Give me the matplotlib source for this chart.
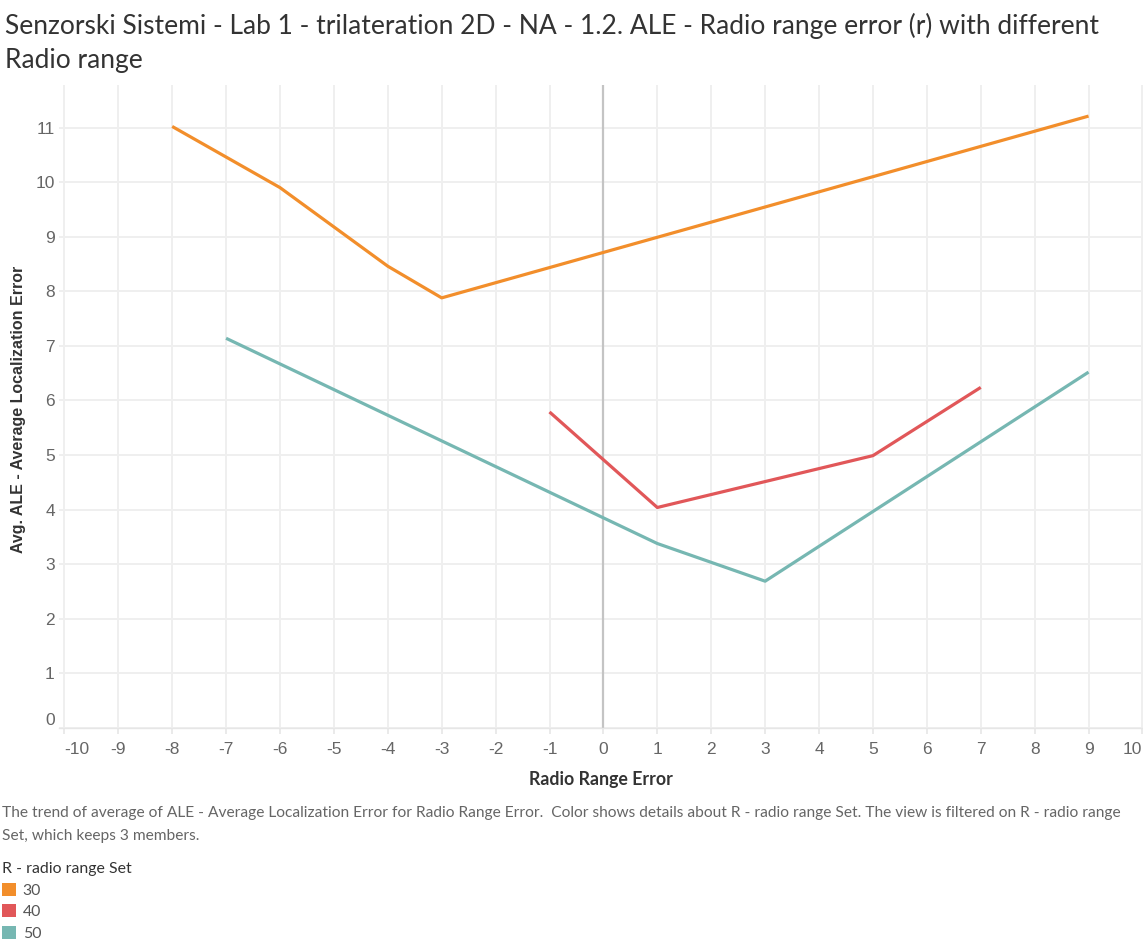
import matplotlib.pyplot as plt
from matplotlib.patches import Patch

plt.rcParams["axes.unicode_minus"] = False

# ─────────────────────────────────────────
# DATA
# ─────────────────────────────────────────
x_30 = [-8, -6, -4, -3, 9]
y_30 = [11.02, 9.90, 8.46, 7.88, 11.21]

x_40 = [-1, 1, 5, 7]
y_40 = [5.79, 4.04, 4.99, 6.24]

x_50 = [-7, 1, 3, 9]
y_50 = [7.14, 3.38, 2.69, 6.52]

SERIES_NAMES = ["30", "40", "50"]
COLORS       = ["#F28E2B", "#E15759", "#76B7B2"]

X_TICKS = list(range(-10, 11))
Y_TICKS = list(range(0, 12))

TITLE = ("Senzorski Sistemi - Lab 1 - trilateration 2D - NA - 1.2. ALE - Radio range error (r) with different\n"
         "Radio range")
CAPTION = ("The trend of average of ALE - Average Localization Error for Radio Range Error.  Color shows details "
           "about R - radio range Set. The view is filtered on R - radio range\nSet, which keeps 3 members.")

MAIN_FONT = ["Lato", "DejaVu Sans"]
AXIS_FONT = ["Liberation Sans", "DejaVu Sans"]

# ─────────────────────────────────────────
# FIGURE
# ─────────────────────────────────────────
fig = plt.figure(figsize=(11.43, 9.40), dpi=100)
ax = fig.add_axes([0.0516, 0.2255, 0.9484, 0.6841])

for xs, ys, c in zip([x_30, x_40, x_50], [y_30, y_40, y_50], COLORS):
    ax.plot(xs, ys, color=c, linewidth=2.3, solid_capstyle="butt", zorder=3)

ax.axvline(0, color="#c4c4c4", linewidth=1.6, zorder=2)

ax.set_xlim(-10.1, 10.01)
ax.set_ylim(0, 11.78)
ax.set_xticks(X_TICKS)
ax.set_yticks(Y_TICKS)
ax.grid(True, color="#efefef", linewidth=1.4, zorder=0)
ax.set_axisbelow(True)

for s in ["top", "right", "left"]:
    ax.spines[s].set_visible(False)
ax.spines["bottom"].set_color("#e6e6e6")
ax.spines["bottom"].set_linewidth(1.0)

ax.tick_params(axis="x", length=4, color="#e6e6e6", width=1.2, pad=6,
               labelsize=12.5, labelcolor="#666666")
ax.tick_params(axis="y", length=0, pad=3, labelsize=12.5, labelcolor="#666666")
for lab in ax.get_xticklabels() + ax.get_yticklabels():
    lab.set_family(AXIS_FONT)

# Tableau keeps the edge labels inside the pane
xl = ax.get_xticklabels()
xl[0].set_horizontalalignment("left")
xl[-1].set_horizontalalignment("right")
ax.get_yticklabels()[0].set_verticalalignment("bottom")

ax.set_xlabel("Radio Range Error", fontsize=12.8, fontweight="bold", color="#333333",
              family=MAIN_FONT, labelpad=10)
fig.text(0.016, 0.5649, "Avg. ALE - Average Localization Error", rotation=90,
         ha="center", va="center", fontsize=11.5, fontweight="bold",
         color="#333333", family=AXIS_FONT)

# title & caption
fig.text(0.004, 0.9862, TITLE, ha="left", va="top", fontsize=19, color="#333333",
         family=MAIN_FONT, linespacing=1.45)
fig.text(0.002, 0.1425, CAPTION, ha="left", va="top", fontsize=11.15, color="#666666",
         family=MAIN_FONT, linespacing=1.8)

# legend
handles = [Patch(facecolor=c, edgecolor="none", label=n) for n, c in zip(SERIES_NAMES, COLORS)]
leg = fig.legend(handles=handles, title="R - radio range Set", loc="upper left",
                 bbox_to_anchor=(0.002, 0.083), frameon=False, alignment="left",
                 handlelength=0.85, handleheight=0.9, handletextpad=0.45,
                 labelspacing=0.42, borderaxespad=0, borderpad=0,
                 prop={"family": MAIN_FONT, "size": 11.4},
                 title_fontproperties={"family": MAIN_FONT, "size": 11.4})
leg.get_title().set_color("#333333")
for t in leg.get_texts():
    t.set_color("#555555")

plt.savefig("out.png", dpi=100)
